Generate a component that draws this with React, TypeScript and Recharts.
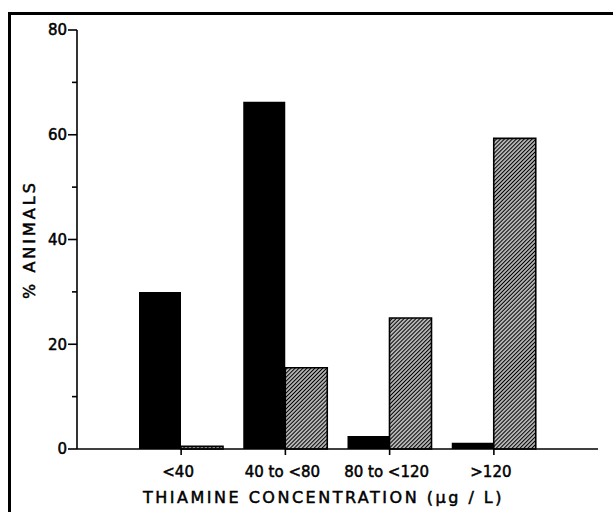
import React from 'react';
import { BarChart, Bar, XAxis, YAxis } from 'recharts';

const categories = ['<40', '40 to <80', '80 to <120', '>120'];
const solidValues = [30, 66.3, 2.5, 1.2];
const hatchedValues = [0.5, 15.5, 25, 59.3];
const yTicks = [0, 10, 20, 30, 40, 50, 60, 70, 80];
const yTickLabels = ['0', '', '20', '', '40', '', '60', '', '80'];
const xTitle = 'THIAMINE CONCENTRATION (\u03BCg / L)';
const yTitle = '% ANIMALS';

const data = categories.map((c, i) => ({ category: c, solid: solidValues[i], hatched: hatchedValues[i] }));

const FONT = "'DejaVu Sans', sans-serif";
const TEXT_STROKE = 0.5;

const YTick = (props: any) => {
  const { x, y, index } = props;
  const label = yTickLabels[index];
  const major = label !== '';
  return (
    <g>
      <line x1={x - (major ? 9 : 5)} x2={x} y1={y} y2={y} stroke="#000" strokeWidth={1.6} />
      {major && (
        <text
          x={x - 10}
          y={y}
          dy="0.36em"
          textAnchor="end"
          fontFamily={FONT}
          fontSize={15}
          fill="#000"
          stroke="#000"
          strokeWidth={TEXT_STROKE}
        >
          {label}
        </text>
      )}
    </g>
  );
};

const XTick = (props: any) => {
  const { x, y, payload } = props;
  return (
    <g>
      <line x1={x} x2={x} y1={y} y2={y + 6} stroke="#000" strokeWidth={1.6} />
      <text
        x={x - 3}
        y={y + 23}
        dy="0.36em"
        textAnchor="middle"
        fontFamily={FONT}
        fontSize={15}
        fill="#000"
        stroke="#000"
        strokeWidth={TEXT_STROKE}
      >
        {payload.value}
      </text>
    </g>
  );
};

const XTitle = (props: any) => {
  const vb = props.viewBox;
  return (
    <text
      x={vb.x + vb.width / 2 - 14}
      y={vb.y + 54}
      textAnchor="middle"
      fontFamily={FONT}
      fontSize={16}
      letterSpacing={2.5}
      fill="#000"
      stroke="#000"
      strokeWidth={TEXT_STROKE}
    >
      {xTitle}
    </text>
  );
};

const YTitle = (props: any) => {
  const vb = props.viewBox;
  const cx = vb.x + 12;
  const cy = vb.y + vb.height / 2;
  return (
    <text
      x={cx}
      y={cy}
      dy="0.36em"
      textAnchor="middle"
      transform={`rotate(-90 ${cx} ${cy})`}
      fontFamily={FONT}
      fontSize={16}
      letterSpacing={3}
      fill="#000"
      stroke="#000"
      strokeWidth={TEXT_STROKE}
    >
      {yTitle}
    </text>
  );
};

export default function App() {
  return (
    <div style={{ position: 'absolute', left: 0, top: 0, width: 613, height: 512, background: '#fff' }}>
      <div
        style={{
          position: 'absolute',
          left: 8,
          top: 12,
          width: 605,
          height: 500,
          borderTop: '3px solid #000',
          borderLeft: '3px solid #000',
          boxSizing: 'border-box',
        }}
      />
      <BarChart
        width={613}
        height={512}
        data={data}
        margin={{ top: 30, right: 15, bottom: 33, left: 17 }}
        barSize={42}
        barGap={0}
      >
        <defs>
          <pattern id="hatch" patternUnits="userSpaceOnUse" width={2.8} height={2.8} patternTransform="rotate(45)">
            <rect x={0} y={0} width={2.8} height={2.8} fill="#fff" />
            <line x1={1.4} y1={0} x2={1.4} y2={2.8} stroke="#000" strokeWidth={1.5} />
          </pattern>
        </defs>
        <XAxis
          dataKey="category"
          interval={0}
          padding={{ left: 52, right: 52 }}
          axisLine={{ stroke: '#000', strokeWidth: 1.6 }}
          tickLine={false}
          tickSize={0}
          tickMargin={0}
          tick={<XTick />}
          height={30}
          label={<XTitle />}
        />
        <YAxis
          type="number"
          domain={[0, 80]}
          ticks={yTicks}
          interval={0}
          axisLine={{ stroke: '#000', strokeWidth: 1.6 }}
          tickLine={false}
          tickSize={0}
          tickMargin={0}
          tick={<YTick />}
          width={60}
          label={<YTitle />}
        />
        <Bar dataKey="solid" fill="#000" isAnimationActive={false} />
        <Bar dataKey="hatched" fill="url(#hatch)" stroke="#000" strokeWidth={1.6} isAnimationActive={false} />
      </BarChart>
    </div>
  );
}
